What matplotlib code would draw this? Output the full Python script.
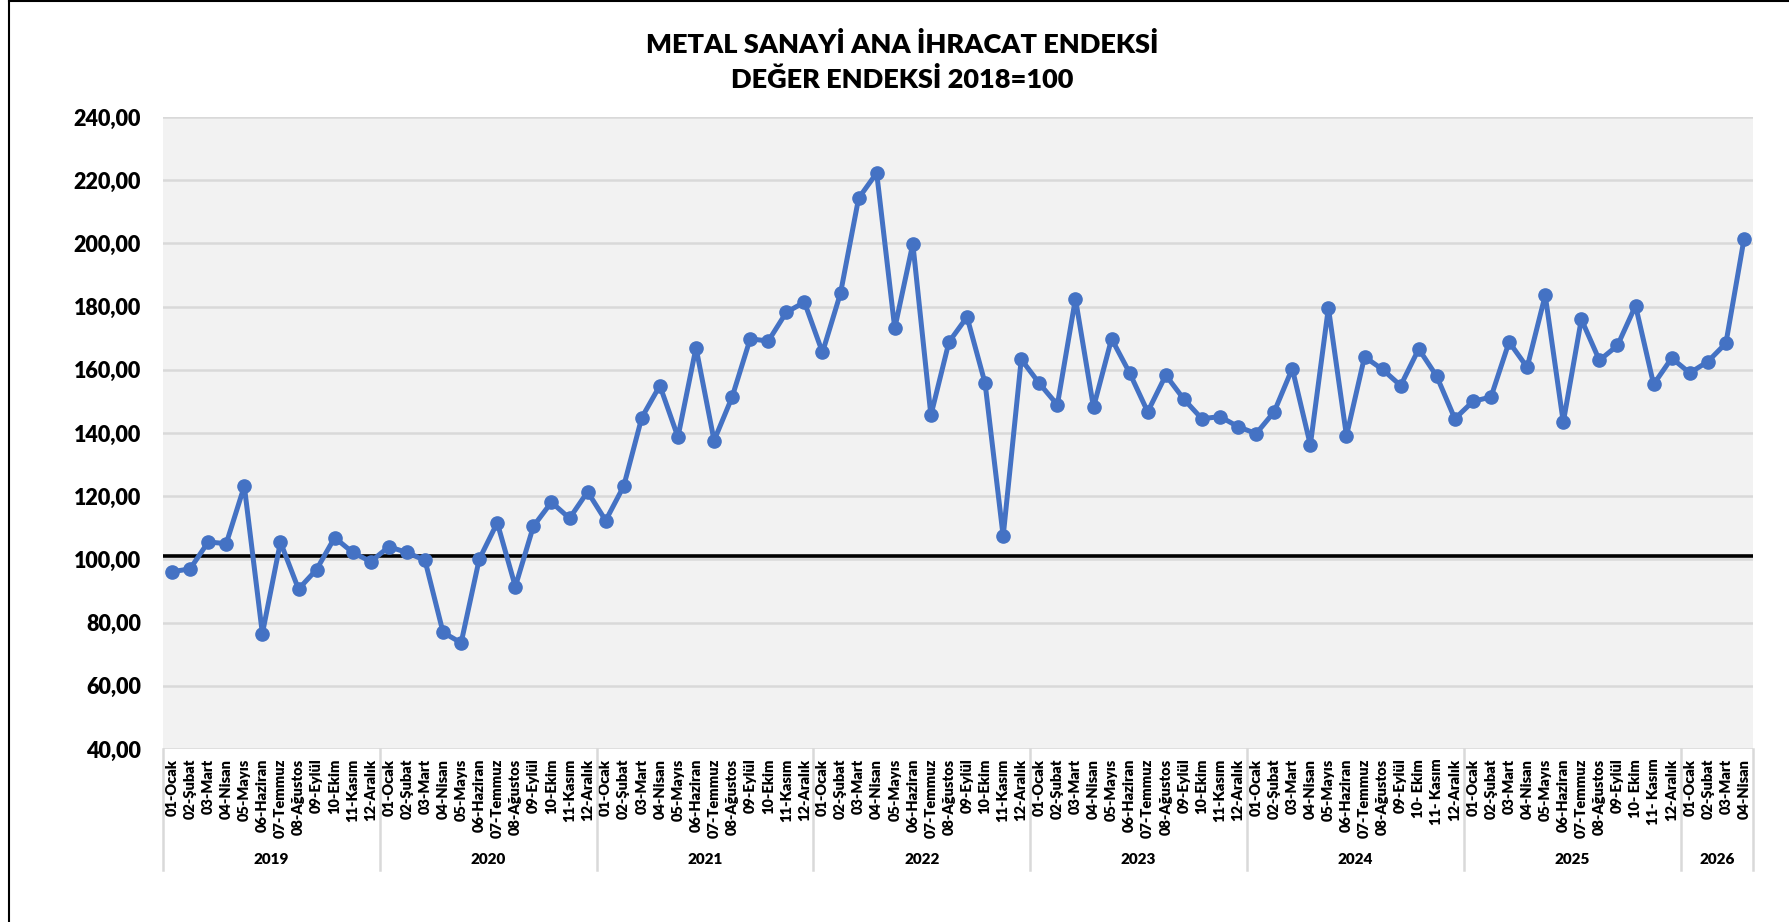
import matplotlib
matplotlib.use("Agg")
import matplotlib.pyplot as plt
import matplotlib.transforms as mtransforms
from matplotlib.lines import Line2D

plt.rcParams['font.family'] = ['Lato', 'DejaVu Sans']

years = ["2019", "2020", "2021", "2022", "2023", "2024", "2025", "2026"]
months_std = ["01-Ocak", "02-Şubat", "03-Mart", "04-Nisan", "05-Mayıs", "06-Haziran",
              "07-Temmuz", "08-Ağustos", "09-Eylül", "10-Ekim", "11-Kasım", "12-Aralık"]
months_alt = ["01-Ocak", "02-Şubat", "03-Mart", "04-Nisan", "05-Mayıs", "06-Haziran",
              "07-Temmuz", "08-Ağustos", "09-Eylül", "10- Ekim", "11- Kasım", "12-Aralık"]
months_2026 = ["01-Ocak", "02-Şubat", "03-Mart", "04-Nisan"]
month_labels = {
    "2019": months_std, "2020": months_std, "2021": months_std, "2022": months_std,
    "2023": months_std, "2024": months_alt, "2025": months_alt, "2026": months_2026,
}

values = {
    "2019": [96.1, 97.0, 105.5, 105.0, 123.2, 76.5, 105.5, 90.6, 96.8, 106.9, 102.2, 99.3],
    "2020": [104.0, 102.2, 99.7, 76.9, 73.6, 100.0, 111.6, 91.4, 110.5, 118.1, 113.0, 121.4],
    "2021": [112.3, 123.2, 144.9, 155.0, 138.7, 167.0, 137.6, 151.4, 169.8, 169.1, 178.2, 181.4],
    "2022": [165.5, 184.3, 214.3, 222.3, 173.1, 199.9, 145.6, 168.8, 176.7, 155.7, 107.3, 163.3],
    "2023": [155.7, 148.9, 182.5, 148.1, 169.8, 159.0, 146.7, 158.3, 150.7, 144.5, 145.2, 142.0],
    "2024": [139.8, 146.7, 160.4, 136.2, 179.6, 139.1, 164.1, 160.1, 155.0, 166.6, 157.9, 144.5],
    "2025": [150.0, 151.4, 168.8, 160.8, 183.6, 143.4, 176.0, 163.0, 167.7, 180.3, 155.4, 163.7],
    "2026": [159.0, 162.6, 168.4, 201.3],
}
REF_LEVEL = 101.0
yticks = [40, 60, 80, 100, 120, 140, 160, 180, 200, 220, 240]

title = "METAL SANAYİ ANA İHRACAT ENDEKSİ\nDEĞER ENDEKSİ 2018=100"

# flatten
labels, series, groups = [], [], []
start = 0
for y in years:
    labels += month_labels[y]
    series += values[y]
    n = len(values[y])
    groups.append((y, start, start + n))
    start += n
x = list(range(len(series)))

W, H = 1789, 922
fig = plt.figure(figsize=(W / 100, H / 100), dpi=100)
fig.patch.set_facecolor("white")
L, R, T, B = 163, 1753, 117, 749
ax = fig.add_axes([L / W, 1 - B / H, (R - L) / W, (B - T) / H])
ax.set_facecolor("#f2f2f2")

ax.set_ylim(40, 240)
ax.set_xlim(-0.5, len(series) - 0.5)
ax.set_yticks(yticks)
ax.set_yticklabels([f"{v:.2f}".replace(".", ",") for v in yticks],
                   fontsize=15.5, fontweight="heavy")
ax.yaxis.grid(True, color="#d9d9d9", linewidth=1.8)
ax.set_axisbelow(True)
for s in ax.spines.values():
    s.set_visible(False)
ax.tick_params(axis="y", length=0, pad=16)

ax.set_xticks(x)
ax.set_xticklabels(labels, rotation=90, fontsize=10.5, fontweight="heavy", va="top")
ax.tick_params(axis="x", length=0, pad=7)

ax.axhline(REF_LEVEL, color="black", linewidth=2.6, zorder=2)
ax.plot(x, series, color="#4472C4", linewidth=3.6, marker="o", markersize=9.5,
        zorder=3)

trans = mtransforms.blended_transform_factory(ax.transData, ax.transAxes)
sep_bottom = (B - 870) / (B - T)
label_y = (B - 859) / (B - T)
bounds = [g[1] - 0.5 for g in groups] + [groups[-1][2] - 0.5]
for b in bounds:
    ax.add_line(Line2D([b, b], [0, sep_bottom], transform=trans, color="#d9d9d9",
                       linewidth=1.8, clip_on=False))
for name, s0, s1 in groups:
    ax.text((s0 + s1 - 1) / 2, label_y, name, transform=trans, ha="center",
            va="center", fontsize=11, fontweight="heavy")

fig.text(902 / W, 1 - 62 / H, title, ha="center", va="center",
         fontsize=19.5, fontweight="heavy", linespacing=1.5)

# outer frame (left and top edges visible)
fig.add_artist(Line2D([9 / W, 9 / W], [0, 1 - 1 / H], transform=fig.transFigure,
                      color="black", linewidth=1.5))
fig.add_artist(Line2D([9 / W, 1], [1 - 1 / H, 1 - 1 / H], transform=fig.transFigure,
                      color="black", linewidth=1.5))

fig.savefig("out.png", dpi=100, facecolor="white")
